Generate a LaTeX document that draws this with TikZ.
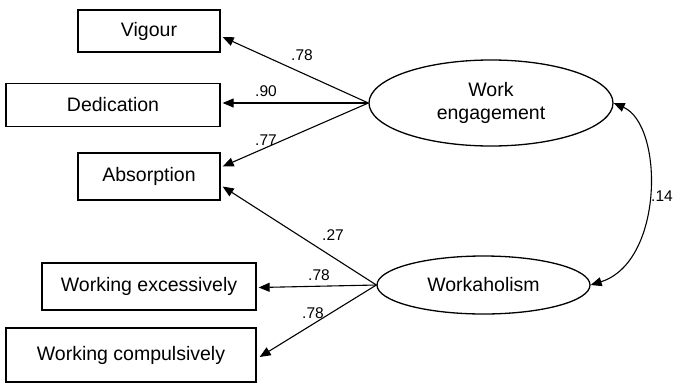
\documentclass[tikz,border=0pt]{standalone}
\usepackage{fontspec}
\setmainfont{Liberation Sans}
\usetikzlibrary{shapes.geometric,arrows.meta,calc}
\tikzset{
  obs/.style={draw, line width=1.3pt, rectangle, inner sep=0pt, font=\fontsize{19.5}{23}\selectfont},
  lat/.style={draw, line width=1.3pt, ellipse, inner sep=0pt, align=center, font=\fontsize{19.5}{23}\selectfont},
  path/.style={line width=1.1pt, -{Triangle[length=11pt,width=9pt]}},
  cov/.style={line width=1.1pt, {Triangle[length=11pt,width=9pt]}-{Triangle[length=11pt,width=9pt]}},
  lbl/.style={inner sep=0pt, font=\fontsize{15.5}{18}\selectfont}
}
\begin{document}
\begin{tikzpicture}[x=1pt,y=-1pt]
\useasboundingbox (0,0) rectangle (674,383);
% observed
\node[obs, minimum width=142pt, minimum height=42pt] (vig) at (149,31) {Vigour};
\node[obs, minimum width=214pt, minimum height=43pt] (ded) at (113,105) {Dedication};
\node[obs, minimum width=142pt, minimum height=47pt] (abs) at (149,176.5) {Absorption};
\node[obs, minimum width=214pt, minimum height=47pt] (wex) at (149,286.5) {Working excessively};
\node[obs, minimum width=250pt, minimum height=54pt] (wco) at (131,355) {Working compulsively};
% latent
\node[lat, minimum width=244pt, minimum height=86pt] (we) at (491,103) {Work\\engagement};
\node[lat, minimum width=213pt, minimum height=58pt] (wh) at (483.5,285) {Workaholism};
% anchor points on boxes
\coordinate (vigT) at ($(vig.east)+(2,6)$);
\coordinate (dedT) at ($(ded.east)+(2,-2)$);
\coordinate (absT1) at ($(abs.east)+(2,-10)$);
\coordinate (absT2) at ($(abs.east)+(2,10)$);
\coordinate (wexT) at ($(wex.east)+(2,1)$);
\coordinate (wcoT) at ($(wco.east)+(3,2)$);
% paths
\draw[path] (we.west) -- (vigT);
\draw[path] (we.west) -- (dedT);
\draw[path] (we.west) -- (absT1);
\draw[path] (wh.west) -- (absT2);
\draw[path] (wh.west) -- (wexT);
\draw[path] (wh.west) -- (wcoT);
\draw[cov] (we.east) .. controls (664,125) and (664,262) .. (wh.east);
% labels
\node[lbl] (l1) at (302,55) {.78};
\node[lbl] (l2) at (266,91) {.90};
\node[lbl] (l3) at (266,140) {.77};
\node[lbl] (l4) at (333,235) {.27};
\node[lbl] (l5) at (319,275) {.78};
\node[lbl] (l6) at (313,313) {.78};
\node[lbl, anchor=west] (l7) at (651,196) {.14};
\end{tikzpicture}
\end{document}
